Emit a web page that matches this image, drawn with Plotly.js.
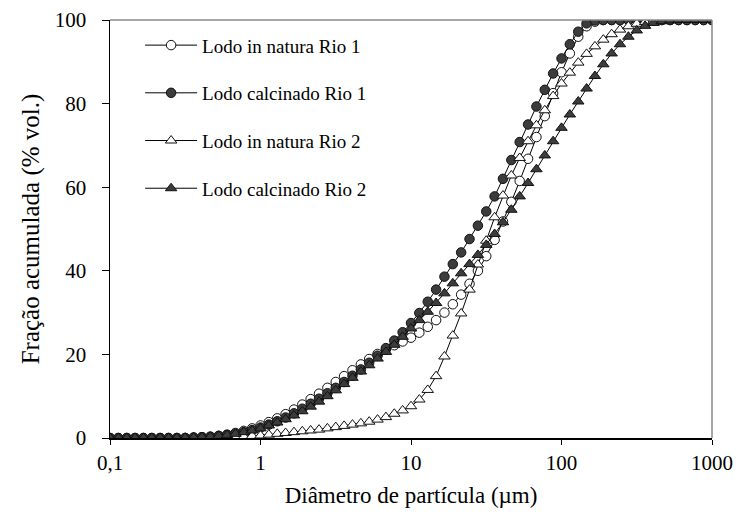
<!DOCTYPE html>
<html>
<head>
<meta charset="utf-8">
<script src="https://cdn.plot.ly/plotly-3.0.1.min.js"></script>
<style>html,body{margin:0;padding:0;background:#fff;}#chart{width:739px;height:514px;}</style>
</head>
<body>
<div id="chart"></div>
<script>
// Particle diameter (µm)
var diameter = [0.1,0.1136,0.1292,0.1468,0.1668,0.1896,0.2154,0.2448,0.2783,0.3162,0.3594,0.4084,0.4642,0.5275,0.5995,0.6813,0.7743,0.8799,
  1,1.136,1.292,1.468,1.668,1.896,2.154,2.448,2.783,3.162,3.594,4.084,4.642,5.275,5.995,6.813,7.743,8.799,
  10,11.36,12.92,14.68,16.68,18.96,21.54,24.48,27.83,31.62,35.94,40.84,46.42,52.75,59.95,68.13,77.43,87.99,
  100,113.6,129.2,146.8,166.8,189.6,215.4,244.8,278.3,316.2,359.4,408.4,464.2,527.5,599.5,681.3,774.3,879.9,1000];

var naturaRio1 = [0,0,0,0,0,0,0,0,0,
  0,0.1,0.2,0.3,0.5,0.8,1.2,1.7,2.3,3.0,
  3.8,4.7,5.7,6.8,8.0,9.3,10.6,12.0,13.4,14.8,
  16.2,17.6,18.9,20.1,21.2,22.2,23.1,24.0,25.2,26.6,
  28.2,30.0,32.0,34.3,36.9,40.0,43.5,47.4,51.8,56.5,
  61.5,66.8,72.0,77.0,82.5,87.5,92.0,96.0,98.5,99.6,
  100,100,100,100,100,100,100,100,100,100,100,100,100,100];

var calcinadoRio1 = [0,0,0,0,0,0,0,0,0,
  0,0.1,0.2,0.3,0.5,0.7,1.0,1.4,1.9,2.5,
  3.2,4.0,4.9,5.9,7.0,8.2,9.4,10.7,12.0,13.4,
  14.9,16.4,18.0,19.7,21.5,23.3,25.3,27.5,29.9,32.6,
  35.5,38.6,41.6,44.4,47.6,50.8,54.2,57.8,62.0,66.5,
  70.8,75.0,79.3,83.3,87.2,90.8,94.2,97.2,99.2,99.9,
  100,100,100,100,100,100,100,100,100,100,100,100,100,100];

var naturaRio2 = [0,0,0,0,0,0,0,0,0,0,0,0,
  0.05,0.1,0.15,0.25,0.35,0.5,0.6,0.8,1.0,
  1.2,1.4,1.6,1.8,2.0,2.3,2.6,2.9,3.2,
  3.5,3.9,4.4,5.0,5.8,6.6,7.6,9.2,11.5,
  14.8,19.5,24.5,29.8,35.5,41.5,47.2,52.8,58.0,
  62.8,67.0,71.0,74.8,78.4,81.8,84.8,87.4,89.8,
  91.9,93.7,95.3,96.6,97.7,98.5,99.1,99.5,99.8,99.9,
  100,100,100,100,100,100];

var calcinadoRio2 = [0,0,0,0,0,0,0,0,0,
  0.05,0.1,0.2,0.3,0.5,0.7,1.0,1.4,1.8,2.3,
  3.0,3.7,4.5,5.4,6.4,7.5,8.7,10.0,11.4,12.9,
  14.4,15.9,17.4,19.0,20.6,22.3,24.2,26.2,28.2,30.2,
  32.3,34.6,37.0,39.4,41.6,43.8,46.2,48.8,51.6,54.6,
  57.8,61.0,64.3,67.6,71.0,74.2,77.4,80.5,83.6,86.6,
  89.4,92.0,94.2,96.0,97.5,98.6,99.3,99.7,99.9,
  100,100,100,100,100];

var seriesNames = ["Lodo in natura Rio 1","Lodo calcinado Rio 1","Lodo in natura Rio 2","Lodo calcinado Rio 2"];
var xTickVals = [0.1,1,10,100,1000];
var xTickText = ["0,1","1","10","100","1000"];
var yTickVals = [0,20,40,60,80,100];

var FONT = "'Liberation Serif','Times New Roman',serif";
var dark = "#3c3c3c";

function tr(y, name, symbol, fill, size, grp){
  return {
    x: diameter, y: y, name: name, type: "scatter", mode: "lines+markers",
    legendgroup: grp,
    line: {color: "#000", width: 1},
    marker: {symbol: symbol, size: size, color: fill, line: {color: "#111", width: 1}}
  };
}

var data = [
  tr(naturaRio1, seriesNames[0], "circle", "#fff", 9.5, "a"),
  tr(calcinadoRio1, seriesNames[1], "circle", dark, 9.5, "b"),
  tr(naturaRio2, seriesNames[2], "triangle-up", "#fff", 10, "c"),
  tr(calcinadoRio2, seriesNames[3], "triangle-up", dark, 10, "d")
];

var layout = {
  width: 739, height: 514,
  margin: {l: 110, r: 27, t: 20, b: 76},
  paper_bgcolor: "#fff", plot_bgcolor: "#fff",
  font: {family: FONT, size: 19, color: "#000"},
  showlegend: true,
  legend: {
    x: 0.05, y: 0.985, xanchor: "left", yanchor: "top",
    bgcolor: "rgba(0,0,0,0)", borderwidth: 0,
    font: {family: FONT, size: 19, color: "#000"},
    traceorder: "grouped", tracegroupgap: 20,
    itemwidth: 52
  },
  xaxis: {
    type: "log", range: [-1, 3],
    tickvals: xTickVals, ticktext: xTickText,
    ticks: "outside", ticklen: 5, tickwidth: 1, tickcolor: "#000",
    showline: true, linecolor: "#000", linewidth: 1.5,
    showgrid: false, zeroline: false,
    tickfont: {family: FONT, size: 21, color: "#000"},
    title: {text: "Diâmetro de partícula (µm)", font: {family: FONT, size: 23, color: "#000"}, standoff: 13}
  },
  yaxis: {
    range: [0, 100], tickvals: yTickVals,
    ticks: "outside", ticklen: 7, tickwidth: 1, tickcolor: "#000",
    ticklabelstandoff: 11,
    showline: true, linecolor: "#000", linewidth: 1.5,
    showgrid: false, zeroline: false,
    tickfont: {family: FONT, size: 21, color: "#000"},
    title: {text: "Fração acumulada (% vol.)", font: {family: FONT, size: 25, color: "#000"}, standoff: 8}
  },
  shapes: [
    {type: "line", xref: "paper", yref: "paper", x0: 0, x1: 1, y0: 1, y1: 1, line: {color: "#8a8a8a", width: 1.5}},
    {type: "line", xref: "paper", yref: "paper", x0: 1, x1: 1, y0: 0, y1: 1, line: {color: "#8a8a8a", width: 1.5}}
  ]
};

Plotly.newPlot("chart", data, layout, {displayModeBar: false, staticPlot: true});
</script>
</body>
</html>
